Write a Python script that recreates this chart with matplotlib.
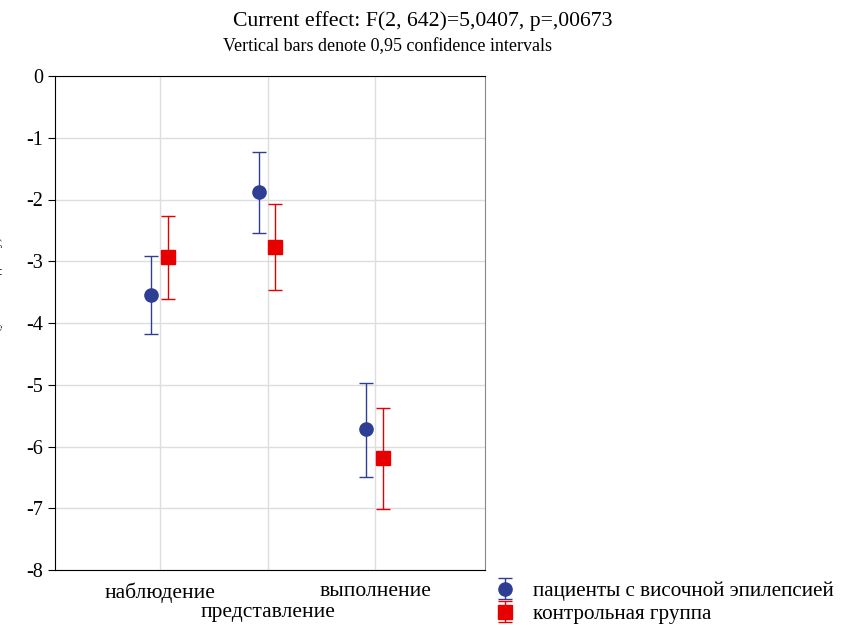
import matplotlib
matplotlib.use("Agg")
import matplotlib.pyplot as plt

# data
categories = ["наблюдение", "представление", "выполнение"]
groups = ["пациенты с височной эпилепсией", "контрольная группа"]
patients_mean = [-3.55, -1.88, -5.72]
patients_low = [-4.18, -2.54, -6.49]
patients_high = [-2.91, -1.23, -4.97]
control_mean = [-2.93, -2.77, -6.19]
control_low = [-3.61, -3.47, -7.01]
control_high = [-2.27, -2.07, -5.38]

plt.rcParams['font.family'] = ['Liberation Serif', 'DejaVu Serif']
plt.rcParams['axes.unicode_minus'] = False

fig = plt.figure(figsize=(8.5, 6.25), dpi=100)
ax = fig.add_axes([0.0647, 0.088, 0.5059, 0.7904])

x = [1, 2, 3]
blue = "#2e3f93"
red = "#e60000"

def plot_group(offset, mean, low, high, color, marker, ms, label):
    xs = [p + offset for p in x]
    err = [[m - l for m, l in zip(mean, low)], [h - m for m, h in zip(mean, high)]]
    return ax.errorbar(xs, mean, yerr=err, fmt=marker, color=color, ms=ms,
                       ecolor=color, elinewidth=1, capsize=5, capthick=1,
                       label=label, zorder=3)

h1 = plot_group(-0.085, patients_mean, patients_low, patients_high, blue, "o", 9.5, groups[0])
h2 = plot_group(0.07, control_mean, control_low, control_high, red, "s", 10, groups[1])

ax.set_xlim(0.02, 4.02)
ax.set_ylim(-8, 0)
ax.set_yticks(range(-8, 1))
# alternate the category labels on two rows, as in the original
ax.xaxis.remove_overlapping_locs = False
ax.set_xticks(x)
ax.set_xticklabels([categories[0], "", categories[2]])
ax.set_xticks([2], minor=True)
ax.set_xticklabels([categories[1]], minor=True)
ax.tick_params(axis="x", which="major", length=0, labelsize=15.5, pad=9)
ax.tick_params(axis="x", which="minor", length=0, labelsize=15.5, pad=24)
ax.tick_params(axis="y", length=5, labelsize=14.5)
ax.grid(True, color="#dddddd", lw=1)
ax.set_axisbelow(True)
for s in ["top", "left", "bottom"]:
    ax.spines[s].set_color("black")
ax.spines["right"].set_color("#888888")

fig.text(0.497, 0.966, "Current effect: F(2, 642)=5,0407, p=,00673",
         ha="center", va="center", fontsize=15.7)
fig.text(0.456, 0.925, "Vertical bars denote 0,95 confidence intervals",
         ha="center", va="center", fontsize=13)
fig.text(-0.004, 0.53, "ΔT (у.е. к исходному)", rotation=90,
         ha="center", va="center", fontsize=9)

fig.legend(handles=[h1, h2], loc="lower left", bbox_to_anchor=(0.562, -0.012),
           frameon=False, fontsize=15.2, handlelength=1.8, handletextpad=0.4,
           labelspacing=0.15, borderaxespad=0)

fig.savefig("out.png", dpi=100)
